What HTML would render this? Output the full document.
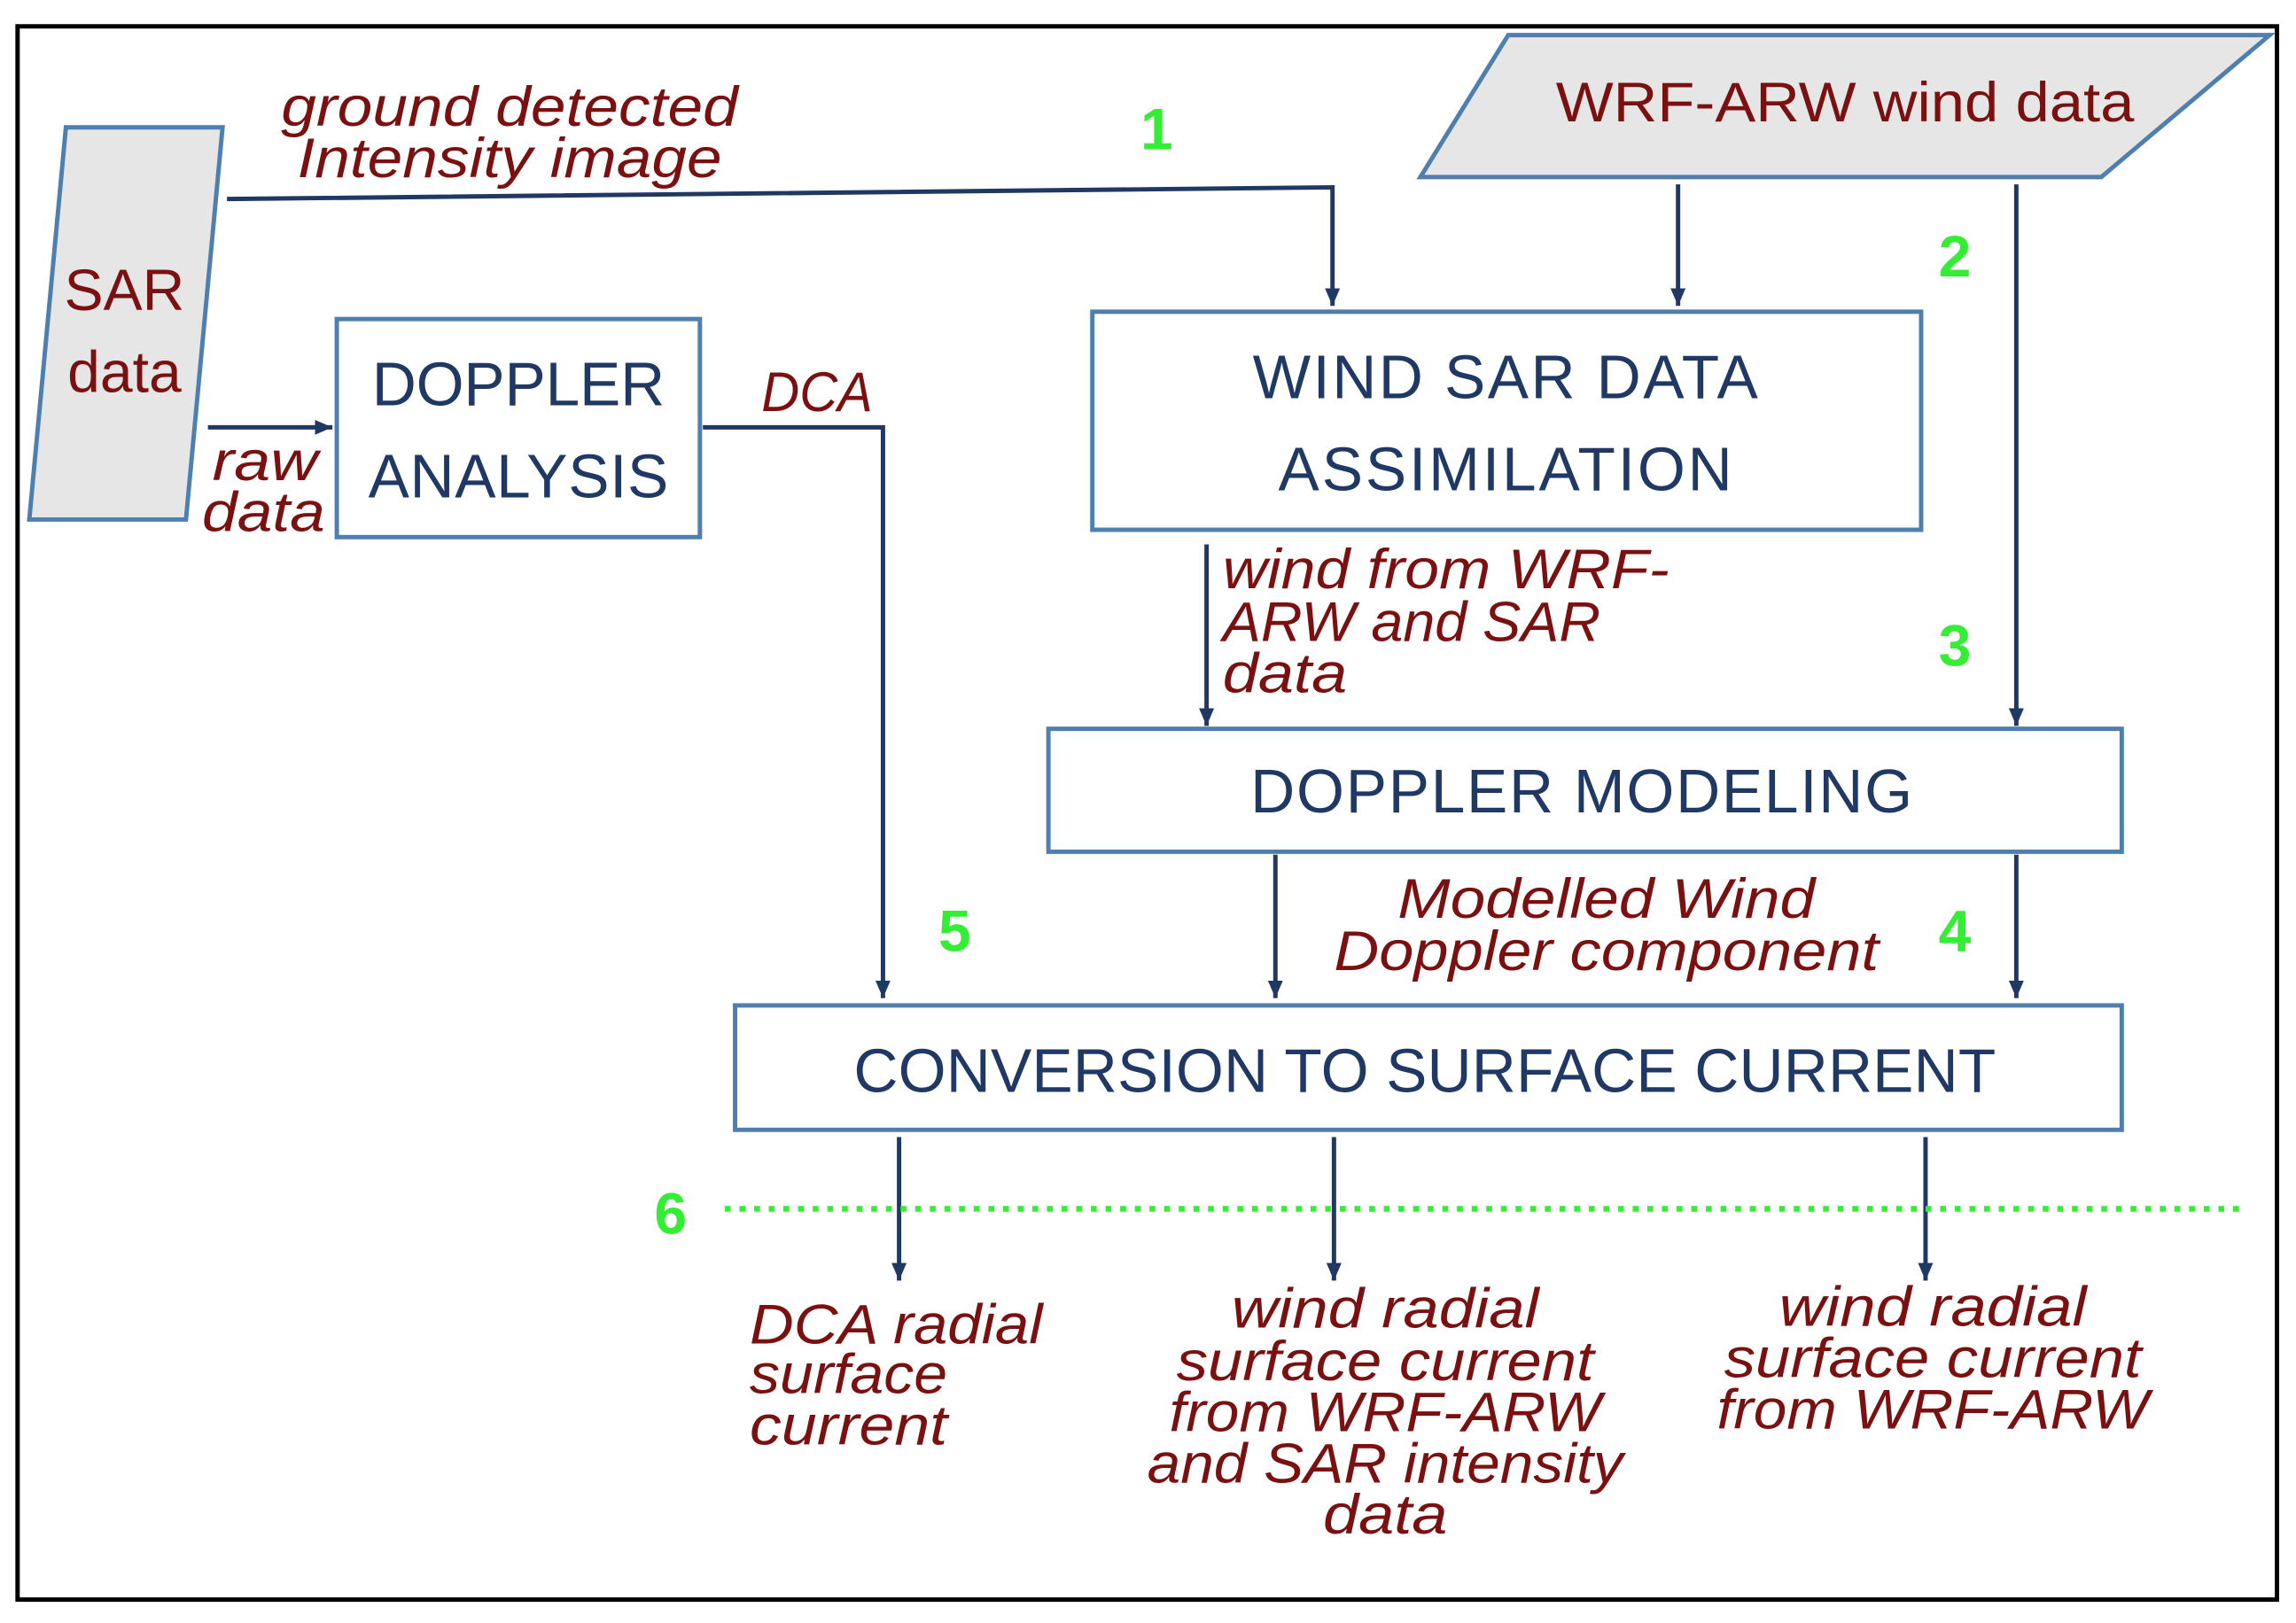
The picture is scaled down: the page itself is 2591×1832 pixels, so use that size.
<!DOCTYPE html>
<html><head><meta charset="utf-8"><style>
html,body{margin:0;padding:0;background:#fff;}
svg{display:block;}
.b{font-family:"Liberation Sans",sans-serif;fill:#1f3864;font-size:42px;text-anchor:middle;}
.r{font-family:"Liberation Sans",sans-serif;fill:#7b1010;font-style:italic;font-size:38px;}
.g{font-family:"Liberation Sans",sans-serif;fill:#33ee33;font-weight:bold;font-size:40px;text-anchor:middle;}
.l{stroke:#1f3864;stroke-width:3;fill:none;}
.box{fill:#fff;stroke:#4f7fae;stroke-width:3;}
</style></head><body>
<svg width="2591" height="1832" viewBox="0 0 1568 1109" preserveAspectRatio="none" xmlns="http://www.w3.org/2000/svg">
<defs><marker id="a" markerWidth="12" markerHeight="16" refX="14" refY="6" orient="auto" markerUnits="userSpaceOnUse" viewBox="0 0 14 12"><path d="M0,0 L14,6 L0,12 z" fill="#1f3864"/></marker></defs>
<rect x="12" y="18" width="1543" height="1075" fill="#fff" stroke="#000" stroke-width="3"/>
<polygon points="45,87 152,87 127,355 20,355" fill="#e6e6e6" stroke="#4f7fae" stroke-width="3"/>
<text x="85" y="212" class="r" style="font-style:normal;font-size:40px;text-anchor:middle">SAR</text>
<text x="85" y="268" class="r" style="font-style:normal;font-size:40px;text-anchor:middle">data</text>
<polygon points="1030,24 1550,24 1435,121 970,121" fill="#e6e6e6" stroke="#4f7fae" stroke-width="3"/>
<text x="1260" y="83" class="r" style="font-style:normal;font-size:38px;text-anchor:middle" textLength="395" lengthAdjust="spacingAndGlyphs">WRF-ARW  wind data</text>
<rect x="230" y="218" width="248" height="149" class="box"/>
<text x="354" y="277" class="b" textLength="200">DOPPLER</text>
<text x="354" y="340" class="b" textLength="205">ANALYSIS</text>
<rect x="746" y="213" width="566" height="149" class="box"/>
<text x="1028" y="272" class="b" textLength="345">WIND SAR DATA</text>
<text x="1028" y="335" class="b" textLength="310">ASSIMILATION</text>
<rect x="716" y="498" width="733" height="84" class="box"/>
<text x="1080" y="555" class="b" textLength="452">DOPPLER MODELING</text>
<rect x="502" y="687" width="947" height="85" class="box"/>
<text x="973" y="746" class="b" textLength="780">CONVERSION TO SURFACE CURRENT</text>
<path class="l" d="M155,136 L910,128 L910,209" marker-end="url(#a)"/>
<path class="l" d="M1146,126 L1146,209" marker-end="url(#a)"/>
<path class="l" d="M1377,126 L1377,496" marker-end="url(#a)"/>
<path class="l" d="M142,292 L227,292" marker-end="url(#a)"/>
<path class="l" d="M480,292 L603,292 L603,682" marker-end="url(#a)"/>
<path class="l" d="M824,372 L824,496" marker-end="url(#a)"/>
<path class="l" d="M871,584 L871,682" marker-end="url(#a)"/>
<path class="l" d="M1377,584 L1377,682" marker-end="url(#a)"/>
<path class="l" d="M614,777 L614,875" marker-end="url(#a)"/>
<path class="l" d="M911,777 L911,875" marker-end="url(#a)"/>
<path class="l" d="M1315,777 L1315,875" marker-end="url(#a)"/>
<line x1="495" y1="826" x2="1535" y2="826" stroke="#33ee33" stroke-width="4" stroke-dasharray="4,6"/>
<text x="790" y="102" class="g">1</text>
<text x="1335" y="189" class="g">2</text>
<text x="1335" y="455" class="g">3</text>
<text x="1335" y="650" class="g">4</text>
<text x="652" y="650" class="g">5</text>
<text x="458" y="843" class="g">6</text>
<g lengthAdjust="spacingAndGlyphs">
<text x="192" y="86" class="r" textLength="312" lengthAdjust="spacingAndGlyphs">ground detected</text>
<text x="203" y="121" class="r" textLength="290" lengthAdjust="spacingAndGlyphs">Intensity image</text>
<text x="520" y="281" class="r" textLength="76" lengthAdjust="spacingAndGlyphs">DCA</text>
<text x="145" y="328" class="r" textLength="72" lengthAdjust="spacingAndGlyphs">raw</text>
<text x="138" y="363" class="r" textLength="84" lengthAdjust="spacingAndGlyphs">data</text>
<text x="835" y="402" class="r" textLength="305" lengthAdjust="spacingAndGlyphs">wind from WRF-</text>
<text x="835" y="438" class="r" textLength="258" lengthAdjust="spacingAndGlyphs">ARW and SAR</text>
<text x="835" y="473" class="r" textLength="85" lengthAdjust="spacingAndGlyphs">data</text>
</g>
<g class="r" style="text-anchor:middle">
<text x="1097" y="627" textLength="285" lengthAdjust="spacingAndGlyphs">Modelled Wind</text>
<text x="1097" y="663" textLength="372" lengthAdjust="spacingAndGlyphs">Doppler component</text>
<text x="946" y="907" textLength="210" lengthAdjust="spacingAndGlyphs">wind radial</text>
<text x="946" y="943" textLength="285" lengthAdjust="spacingAndGlyphs">surface current</text>
<text x="946" y="978" textLength="295" lengthAdjust="spacingAndGlyphs">from WRF-ARW</text>
<text x="946" y="1013" textLength="325" lengthAdjust="spacingAndGlyphs">and SAR intensity</text>
<text x="946" y="1048" textLength="85" lengthAdjust="spacingAndGlyphs">data</text>
<text x="1320" y="906" textLength="210" lengthAdjust="spacingAndGlyphs">wind radial</text>
<text x="1320" y="941" textLength="285" lengthAdjust="spacingAndGlyphs">surface current</text>
<text x="1320" y="976" textLength="295" lengthAdjust="spacingAndGlyphs">from WRF-ARW</text>
</g>
<text x="512" y="918" class="r" textLength="200" lengthAdjust="spacingAndGlyphs">DCA radial</text>
<text x="512" y="952" class="r" textLength="135" lengthAdjust="spacingAndGlyphs">surface</text>
<text x="512" y="987" class="r" textLength="135" lengthAdjust="spacingAndGlyphs">current</text>
</svg>
</body></html>
